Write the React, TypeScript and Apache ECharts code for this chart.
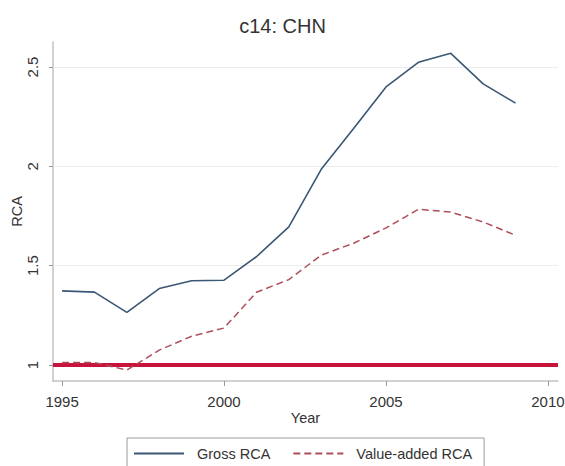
import React, { useEffect, useRef } from "react";
import * as echarts from "echarts";

const years = [1995, 1996, 1997, 1998, 1999, 2000, 2001, 2002, 2003, 2004, 2005, 2006, 2007, 2008, 2009];
const grossRCA = [1.373, 1.367, 1.265, 1.385, 1.424, 1.427, 1.545, 1.695, 1.985, 2.19, 2.4, 2.524, 2.569, 2.415, 2.318];
const valueAddedRCA = [1.012, 1.012, 0.975, 1.075, 1.145, 1.186, 1.366, 1.43, 1.553, 1.613, 1.69, 1.784, 1.77, 1.72, 1.653];
const xTicks = [1995, 2000, 2005, 2010];
const yTicks = [1, 1.5, 2, 2.5];
const gridValues = [1.5, 2, 2.5];
const referenceValue = 1;

export default function App() {
  const ref = useRef<HTMLDivElement>(null);
  useEffect(() => {
    if (!ref.current) return;
    const chart = echarts.init(ref.current, null, { renderer: "svg" });
    const font = "'Liberation Sans', Arial, sans-serif";
    const axisGray = "#c2c2c2";
    chart.setOption({
      animation: false,
      backgroundColor: "#ffffff",
      textStyle: { fontFamily: font },
      title: {
        text: "c14: CHN",
        left: "center",
        top: 11,
        textStyle: { fontSize: 20, fontWeight: "normal", color: "#333", fontFamily: font },
      },
      grid: { left: 53, right: 7, top: 42, bottom: 85, containLabel: false, outerBoundsMode: "none" },
      legend: {
        data: ["Gross RCA", "Value-added RCA"],
        top: 438,
        left: 127,
        width: 358,
        padding: [8, 12, 8, 6],
        borderColor: "#9a9a9a",
        borderWidth: 1,
        itemWidth: 50,
        itemHeight: 12,
        itemGap: 22,
        itemStyle: { opacity: 0 },
        textStyle: { fontSize: 14.5, color: "#333", fontFamily: font, padding: [0, 0, 0, 8] },
      },
      xAxis: {
        type: "value",
        min: 1994.72,
        max: 2010.31,
        name: "Year",
        nameLocation: "middle",
        nameGap: 29,
        nameMoveOverlap: false,
        nameTextStyle: { fontSize: 14.5, color: "#333", fontFamily: font },
        axisLine: { show: true, lineStyle: { color: axisGray, width: 1.5 } },
        axisTick: { show: true, customValues: xTicks, length: 5, lineStyle: { color: "#999" } },
        axisLabel: {
          customValues: xTicks,
          margin: 13,
          fontSize: 15,
          color: "#333",
          fontFamily: font,
          formatter: (v: number) => String(v),
        },
        splitLine: { show: false },
      },
      yAxis: {
        type: "value",
        min: 0.9195,
        max: 2.626,
        name: "RCA",
        nameLocation: "middle",
        nameRotate: 90,
        nameGap: 29,
        nameMoveOverlap: false,
        nameTextStyle: { fontSize: 14.5, color: "#333", fontFamily: font },
        axisLine: { show: true, lineStyle: { color: axisGray, width: 1.5 } },
        axisTick: { show: true, customValues: yTicks, length: 4, lineStyle: { color: "#999" } },
        axisLabel: {
          customValues: yTicks,
          rotate: 90,
          margin: 13,
          fontSize: 15,
          color: "#333",
          fontFamily: font,
          formatter: (v: number) => String(v),
        },
        splitLine: { show: false },
      },
      series: [
        {
          name: "grid",
          type: "line",
          data: [],
          silent: true,
          z: 1,
          markLine: {
            silent: true,
            z: 1,
            symbol: ["none", "none"],
            label: { show: false },
            lineStyle: { color: "#ececec", width: 1, type: "solid" },
            data: gridValues.map((v) => ({ yAxis: v })),
          },
        },
        {
          name: "ref",
          type: "line",
          data: [],
          silent: true,
          z: 2,
          markLine: {
            silent: true,
            z: 2,
            symbol: ["none", "none"],
            label: { show: false },
            lineStyle: { color: "#c8143c", width: 4, type: "solid" },
            data: [{ yAxis: referenceValue }],
          },
        },
        {
          name: "Gross RCA",
          type: "line",
          z: 5,
          symbol: "none",
          data: years.map((y, i) => [y, grossRCA[i]]),
          lineStyle: { color: "#3a5775", width: 1.6 },
          itemStyle: { color: "#3a5775" },
        },
        {
          name: "Value-added RCA",
          type: "line",
          z: 5,
          symbol: "none",
          data: years.map((y, i) => [y, valueAddedRCA[i]]),
          lineStyle: { color: "#ad4f5b", width: 1.5, type: [7, 4] },
          itemStyle: { color: "#ad4f5b" },
        },
      ],
    });
    return () => chart.dispose();
  }, []);
  return (
    <div
      ref={ref}
      style={{ position: "fixed", left: 0, top: 0, width: 565, height: 466, background: "#fff" }}
    />
  );
}
